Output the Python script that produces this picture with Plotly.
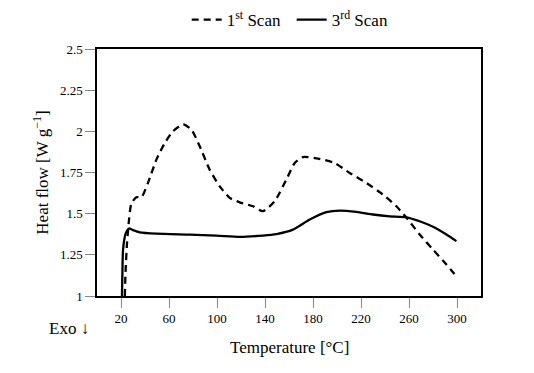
import plotly.graph_objects as go

# 1st scan (dashed)
t1 = [23.2, 23.8, 25.0, 26.7, 28.6, 32.8, 37.0, 42.5, 49.5, 56.4, 63.3, 71.7, 78.7, 85.6,
      93.9, 102.3, 110.6, 118.9, 130.0, 138.3, 148.0, 157.8, 164.8, 171.7, 185.6, 198.1,
      210.6, 224.5, 238.3, 249.5, 259.2, 268.9, 280.0, 291.2, 299.5]
h1 = [1.00, 1.15, 1.32, 1.464, 1.56, 1.60, 1.60, 1.687, 1.828, 1.928, 2.00, 2.042, 2.01, 1.909,
      1.767, 1.666, 1.596, 1.569, 1.545, 1.515, 1.575, 1.707, 1.808, 1.844, 1.832, 1.808,
      1.747, 1.687, 1.616, 1.545, 1.464, 1.373, 1.282, 1.191, 1.12]

# 3rd scan (solid)
t3 = [20.8, 21.2, 21.7, 23.9, 26.7, 30.0, 35.6, 49.5, 77.2, 99.5, 118.9, 138.3, 149.5,
      163.3, 177.3, 191.2, 202.3, 216.2, 230.0, 243.9, 257.8, 268.9, 280.0, 291.2, 299.5]
h3 = [1.00, 1.15, 1.28, 1.38, 1.41, 1.40, 1.387, 1.379, 1.373, 1.367, 1.359, 1.367, 1.376,
      1.403, 1.464, 1.509, 1.519, 1.511, 1.495, 1.484, 1.478, 1.454, 1.42, 1.373, 1.333]

x_ticks = [20, 60, 100, 140, 180, 220, 260, 300]
y_ticks = [1, 1.25, 1.5, 1.75, 2, 2.25, 2.5]
y_tick_text = ["1", "1.25", "1.5", "1.75", "2", "2.25", "2.5"]

FONT = "Liberation Serif, Times New Roman, serif"

fig = go.Figure()
fig.add_trace(go.Scatter(x=t1, y=h1, mode="lines", name="1<sup>st</sup> Scan",
                         line=dict(color="black", width=2.3, dash="7px,5px", shape="spline", smoothing=0.6)))
fig.add_trace(go.Scatter(x=t3, y=h3, mode="lines", name="3<sup>rd</sup> Scan",
                         line=dict(color="black", width=2.3, shape="spline", smoothing=0.6)))

fig.update_layout(
    width=534, height=373,
    margin=dict(l=89, r=61, t=41, b=85, autoexpand=False),
    paper_bgcolor="white", plot_bgcolor="white",
    font=dict(family=FONT, color="black", size=12),
    showlegend=True,
    legend=dict(orientation="h", x=0.507, xanchor="center", y=1.117, yanchor="middle",
                font=dict(family=FONT, size=17), itemwidth=30, tracegroupgap=0,
                entrywidth=60, entrywidthmode="pixels",
                bgcolor="rgba(0,0,0,0)"),
    xaxis=dict(range=[0, 320], tickvals=x_ticks, ticks="outside", ticklen=10, tickcolor="#888",
               tickwidth=1, showgrid=False, zeroline=False, showline=True, linecolor="black",
               linewidth=1.5, mirror=True, tickfont=dict(family=FONT, size=13)),
    yaxis=dict(range=[1, 2.5], tickvals=y_ticks, ticktext=y_tick_text, ticks="outside", ticklen=10,
               tickcolor="#888", tickwidth=1, showgrid=False, zeroline=False, showline=True,
               linecolor="black", linewidth=1.5, mirror=True, tickfont=dict(family=FONT, size=13)),
    annotations=[
        dict(text="Temperature [°C]", x=0.5, y=-0.21, xref="paper", yref="paper",
             xanchor="center", yanchor="middle", showarrow=False, font=dict(family=FONT, size=17)),
        dict(text="Heat flow [W g<sup>−1</sup>]", x=-0.148, y=0.5, xref="paper", yref="paper",
             xanchor="center", yanchor="middle", textangle=-90, showarrow=False,
             font=dict(family=FONT, size=17)),
        dict(text="Exo ↓", x=-0.072, y=-0.13, xref="paper", yref="paper",
             xanchor="center", yanchor="middle", showarrow=False, font=dict(family=FONT, size=17)),
    ],
)

fig.write_html("out.html")
